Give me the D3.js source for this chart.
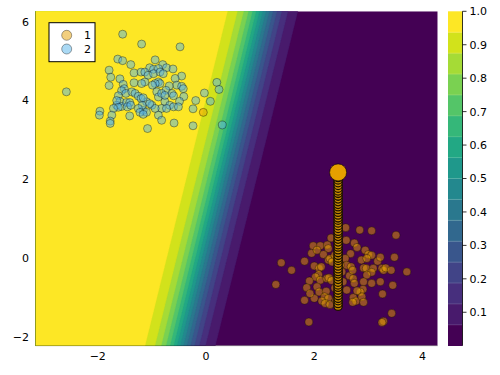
<html>
<head>
<meta charset="UTF-8">
<title>logistic contour</title>
<style>
  body { margin: 0; background: #fff; }
  text { font-family: "DejaVu Sans", sans-serif; font-size: 11px; fill: #000; }
</style>
</head>
<body>
<svg width="500" height="375"></svg>
<script src="https://d3js.org/d3.v7.min.js"></script>
<script>
// class 1 (orange) samples
var class1X = [2.58,2.84,3.06,3.51,2.31,1.98,2.11,2.24,2.26,2.74,
  2.79,1.95,2.17,2.94,3.00,3.06,2.67,2.87,2.97,2.91,
  2.96,3.17,3.22,3.48,1.39,1.82,1.58,1.29,2.00,2.09,
  2.13,2.08,2.26,2.29,2.02,2.11,1.91,1.86,2.05,2.23,
  2.27,2.32,1.82,2.00,2.09,2.22,2.19,2.26,2.14,2.20,
  2.29,1.90,3.09,3.06,3.25,3.28,3.32,3.42,3.71,2.97,
  2.65,2.72,2.91,3.06,3.22,3.45,2.90,2.85,2.72,2.77,
  2.88,2.91,2.71,3.26,3.43,3.28,3.25,2.57,2.60,2.68,
  2.71,2.48,2.51,2.53,2.38,2.33,2.05,2.74,2.60,2.79,
  2.38,2.40,2.59,1.92,-0.05];
var class1Y = [0.78,0.72,0.70,0.59,0.52,0.32,0.32,0.34,0.25,0.39,
  0.28,0.13,0.10,0.21,0.10,0.08,0.12,-0.04,0.00,-0.24,
  -0.25,-0.07,0.03,0.03,-0.11,-0.07,-0.30,-0.66,-0.19,-0.25,
  -0.21,-0.41,-0.04,0.00,-0.47,-0.55,-0.57,-0.74,-0.72,-0.51,
  -0.49,-0.56,-1.06,-1.01,-0.85,-0.83,-0.97,-1.01,-1.08,-1.14,
  -1.17,-1.61,-0.25,-0.35,-0.25,-0.30,-0.24,-0.30,-0.34,-0.42,
  -0.44,-0.51,-0.59,-0.63,-0.59,-0.68,-0.78,-0.85,-0.99,-1.08,
  -0.97,-1.11,-1.11,-0.90,-1.39,-1.59,-1.62,0.00,-0.17,-0.21,
  -0.30,-0.17,-0.34,-0.59,0.08,-0.09,0.21,-0.63,-0.80,-0.82,
  -0.75,-1.06,0.46,-0.89,3.70];

// class 2 (blue) samples
var class2X = [-1.54,-1.19,-0.48,-2.58,-1.63,-1.54,-1.39,-0.94,-0.80,-0.73,
  -0.61,-1.79,-1.76,-1.59,-1.33,-1.20,-1.04,-0.97,-0.88,-0.45,
  -1.79,-1.53,-1.51,-1.33,-1.13,-1.07,-0.97,-0.85,-0.79,-0.57,
  -0.54,-0.45,-0.42,-0.68,-0.88,-0.85,-0.94,-0.99,-1.13,-1.19,
  -0.74,-0.63,-0.60,-0.41,-0.49,-0.03,-0.19,0.08,0.20,0.24,
  -0.24,-0.76,-0.67,-0.60,-0.51,-0.82,-0.73,-0.88,-0.82,-0.59,
  -0.24,0.30,-1.08,-1.10,-1.00,-0.94,-1.16,-1.10,-1.04,-0.91,
  -0.88,-0.82,-0.76,-1.56,-1.48,-1.37,-1.31,-1.25,-1.20,-1.62,
  -1.59,-1.65,-1.56,-1.47,-1.41,-1.16,-1.18,-1.65,-1.62,-1.71,
  -1.45,-1.39,-1.25,-1.96,-1.97,-1.74,-1.41,-1.77,-1.77,-1.22,-1.16];
var class2Y = [5.68,5.43,5.36,4.22,5.05,5.01,4.91,5.03,4.91,4.83,
  4.80,4.77,4.59,4.55,4.70,4.72,4.83,4.79,4.81,4.62,
  4.38,4.41,4.30,4.45,4.72,4.64,4.68,4.72,4.68,4.56,
  4.39,4.36,4.30,4.37,4.47,4.43,4.43,4.39,4.47,4.43,
  4.26,4.18,4.12,4.10,3.98,4.19,4.00,3.98,4.46,4.28,
  3.79,3.97,3.88,3.84,3.84,3.80,3.80,3.63,3.50,3.43,
  3.36,3.38,3.29,3.97,3.88,3.80,3.75,3.70,3.92,4.22,
  4.09,4.18,4.13,4.25,4.18,4.22,4.18,4.11,4.05,4.12,
  3.98,3.88,3.85,3.95,3.95,4.07,3.88,4.00,3.83,3.80,
  3.84,3.88,3.80,3.73,3.63,3.63,3.61,3.48,3.42,3.70,3.65];

// moving point trail, and its final position
var pathX = 2.44;
var pathY = [-1.21,-1.14,-1.07,-1.01,-0.94,-0.87,-0.80,-0.73,-0.67,-0.60,
  -0.53,-0.46,-0.39,-0.33,-0.26,-0.19,-0.12,-0.05,0.01,0.08,
  0.15,0.22,0.29,0.35,0.42,0.49,0.56,0.63,0.69,0.76,
  0.83,0.90,0.97,1.03,1.10,1.17,1.24,1.31,1.37,1.44,
  1.51,1.58,1.65,1.71,1.78,1.85,1.92,1.99,2.05,2.12];
var finalPoint = [2.44, 2.18];

// logistic model weights: bias, x, y
var weights = [-0.33, -4.17, 0.75];
var nBands = 16;
var xTicks = [-2, 0, 2, 4];
var yTicks = [-2, 0, 2, 4, 6];
var cbTicks = [0.1, 0.2, 0.3, 0.4, 0.5, 0.6, 0.7, 0.8, 0.9, 1.0];
var legendLabels = ["1", "2"];

var svg = d3.select("svg");
var x = d3.scaleLinear().domain([-3.15, 4.28]).range([35.5, 437.7]);
var y = d3.scaleLinear().domain([-2.21, 6.26]).range([345.7, 11.3]);
var cb = d3.scaleLinear().domain([0, 1]).range([345.7, 11.3]);
var bandColor = function(k) { return d3.interpolateViridis(k / (nBands - 1)); };

svg.append("clipPath").attr("id", "clip")
  .append("rect").attr("x", 35.5).attr("y", 11.3).attr("width", 402.2).attr("height", 334.4);

var plot = svg.append("g").attr("clip-path", "url(#clip)");

// probability grid
function prob(px, py) {
  return 1 / (1 + Math.exp(-(weights[0] + weights[1] * px + weights[2] * py)));
}
var nx = 240, ny = 240;
var gx0 = -3.5, gx1 = 4.6, gy0 = -2.6, gy1 = 6.6;
var dxg = (gx1 - gx0) / (nx - 1), dyg = (gy1 - gy0) / (ny - 1);
var grid = new Array(nx * ny);
for (var j = 0; j < ny; j++)
  for (var i = 0; i < nx; i++)
    grid[j * nx + i] = prob(gx0 + i * dxg, gy0 + j * dyg);

var thresholds = d3.range(1, nBands).map(function(k) { return k / nBands; });
var contours = d3.contours().size([nx, ny]).thresholds(thresholds)(grid);
var proj = d3.geoTransform({
  point: function(cx, cy) {
    this.stream.point(x(gx0 + (cx - 0.5) * dxg), y(gy0 + (cy - 0.5) * dyg));
  }
});
var path = d3.geoPath(proj);

plot.append("rect").attr("x", 35.5).attr("y", 11.3).attr("width", 402.2).attr("height", 334.4)
  .attr("fill", bandColor(0));
plot.append("g").selectAll("path")
  .data(contours)
  .enter().append("path")
  .attr("d", path)
  .attr("fill", function(d, k) { return bandColor(k + 1); })
  .attr("stroke", function(d, k) { return bandColor(k + 1); })
  .attr("stroke-width", 0.3);

// axis lines
svg.append("line").attr("x1", 35.5).attr("x2", 35.5).attr("y1", 11.3).attr("y2", 345.7)
  .attr("stroke", "#000").attr("stroke-opacity", 0.3);
svg.append("line").attr("x1", 35.5).attr("x2", 437.7).attr("y1", 345.7).attr("y2", 345.7)
  .attr("stroke", "#000").attr("stroke-opacity", 0.3);

// scatter
function drawClass(xs, ys, color) {
  plot.append("g").selectAll("circle")
    .data(xs)
    .enter().append("circle")
    .attr("cx", function(d) { return x(d); })
    .attr("cy", function(d, i) { return y(ys[i]); })
    .attr("r", 4)
    .attr("fill", color).attr("fill-opacity", 0.5)
    .attr("stroke", "#000").attr("stroke-opacity", 0.45).attr("stroke-width", 0.8);
}
drawClass(class1X, class1Y, "#E69F00");
drawClass(class2X, class2Y, "#56B4E9");

plot.append("g").selectAll("circle")
  .data(pathY)
  .enter().append("circle")
  .attr("cx", x(pathX))
  .attr("cy", function(d) { return y(d); })
  .attr("r", 4.2)
  .attr("fill", "#C88A00")
  .attr("stroke", "#1a1000").attr("stroke-width", 1.3);
plot.append("circle")
  .attr("cx", x(finalPoint[0])).attr("cy", y(finalPoint[1]))
  .attr("r", 8.5)
  .attr("fill", "#E69F00").attr("stroke", "#000").attr("stroke-width", 0.6);

// tick labels
svg.append("g").selectAll("text")
  .data(xTicks)
  .enter().append("text")
  .attr("x", function(d) { return x(d); })
  .attr("y", 360)
  .attr("text-anchor", "middle")
  .text(function(d) { return d < 0 ? "\u2212" + (-d) : d; });
svg.append("g").selectAll("text")
  .data(yTicks)
  .enter().append("text")
  .attr("x", 29)
  .attr("y", function(d) { return y(d); })
  .attr("dy", "0.36em")
  .attr("text-anchor", "end")
  .text(function(d) { return d < 0 ? "\u2212" + (-d) : d; });

// colorbar
var cbx = 448, cbw = 14.5;
var bandH = (cb(0) - cb(1)) / nBands;
svg.append("g").selectAll("rect")
  .data(d3.range(nBands))
  .enter().append("rect")
  .attr("x", cbx)
  .attr("y", function(k) { return cb((k + 1) / nBands); })
  .attr("width", cbw)
  .attr("height", bandH + 0.3)
  .attr("fill", function(k) { return bandColor(k); });
svg.append("g").selectAll("line")
  .data(d3.range(1, nBands))
  .enter().append("line")
  .attr("x1", cbx).attr("x2", cbx + cbw)
  .attr("y1", function(k) { return cb(k / nBands); })
  .attr("y2", function(k) { return cb(k / nBands); })
  .attr("stroke", "#fff").attr("stroke-opacity", 0.25).attr("stroke-width", 0.6);
svg.append("line").attr("x1", cbx + cbw).attr("x2", cbx + cbw).attr("y1", cb(1)).attr("y2", cb(0))
  .attr("stroke", "#000").attr("stroke-width", 0.8);
var cbAxis = svg.append("g").selectAll("g")
  .data(cbTicks)
  .enter().append("g")
  .attr("transform", function(d) { return "translate(" + (cbx + cbw) + "," + cb(d) + ")"; });
cbAxis.append("line").attr("x2", 4).attr("stroke", "#000").attr("stroke-width", 0.8);
cbAxis.append("text")
  .attr("x", 7)
  .attr("dy", "0.36em")
  .text(function(d) { return d.toFixed(1); });

// legend
var legend = svg.append("g");
legend.append("rect").attr("x", 49).attr("y", 22.7).attr("width", 46).attr("height", 39)
  .attr("fill", "#fff").attr("stroke", "#000").attr("stroke-width", 1);
var legendColors = ["#E69F00", "#56B4E9"];
legendLabels.forEach(function(lab, i) {
  legend.append("circle")
    .attr("cx", 66.7).attr("cy", 35.3 + i * 13.7)
    .attr("r", 5)
    .attr("fill", legendColors[i]).attr("fill-opacity", 0.5)
    .attr("stroke", "#000").attr("stroke-opacity", 0.45).attr("stroke-width", 0.8);
  legend.append("text")
    .attr("x", 84).attr("y", 35.3 + i * 13.7)
    .attr("dy", "0.36em")
    .text(lab);
});
</script>
</body>
</html>
